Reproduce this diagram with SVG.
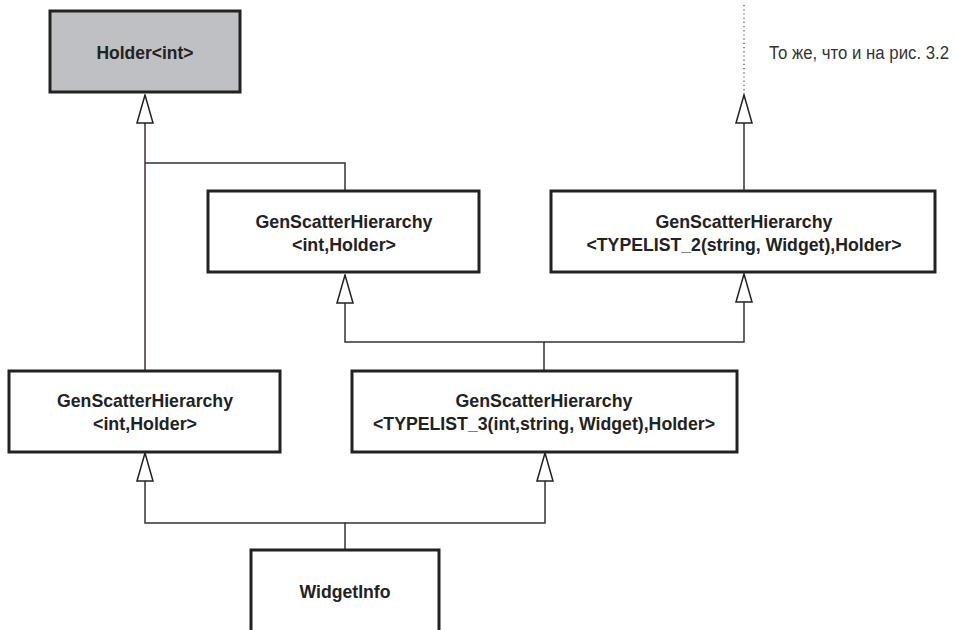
<svg xmlns="http://www.w3.org/2000/svg" width="955" height="630" viewBox="0 0 955 630">
<style>
.box{fill:#fff;stroke:#222;stroke-width:3}
.gray{fill:#bfc0c3}
.t{font-family:"Liberation Sans",Arial,sans-serif;font-weight:bold;font-size:19px;fill:#222;text-anchor:middle}
.lbl{font-family:"Liberation Sans",Arial,sans-serif;font-size:19px;fill:#333}
.c{fill:none;stroke:#333;stroke-width:1.5}
.m{fill:none;stroke:#4a2a30;stroke-width:1.5}
.dot{fill:none;stroke:#444;stroke-width:1.2;stroke-dasharray:1.2 3}
</style>
<defs>
<marker id="tri" viewBox="0 0 30 18" refX="29" refY="9" markerWidth="30" markerHeight="18" markerUnits="userSpaceOnUse" orient="auto">
<path d="M1,1 L29,9 L1,17 Z" fill="#fff" stroke="#222" stroke-width="1.5"/>
</marker>
</defs>
<g id="connectors">
<path class="dot" d="M744,5 V94"/>
<path class="m" d="M145,370 V95" marker-end="url(#tri)"/>
<path class="c" d="M345,190 V163 H145"/>
<path class="c" d="M744,190 V95" marker-end="url(#tri)"/>
<path class="c" d="M544,370 V342 H345 V275" marker-end="url(#tri)"/>
<path class="c" d="M544,342 H744 V274" marker-end="url(#tri)"/>
<path class="c" d="M345,549 V523 H145 V453" marker-end="url(#tri)"/>
<path class="c" d="M345,523 H545 V453" marker-end="url(#tri)"/>
</g>
<g id="holder">
<rect class="box gray" x="50" y="11" width="190" height="81"/>
<text class="t" x="145" y="59" textLength="97" lengthAdjust="spacingAndGlyphs">Holder&lt;int&gt;</text>
</g>
<g id="gsh-int-top">
<rect class="box" x="208" y="191" width="271" height="81"/>
<text class="t" x="344" y="228" textLength="177" lengthAdjust="spacingAndGlyphs">GenScatterHierarchy</text>
<text class="t" x="344" y="251" textLength="104" lengthAdjust="spacingAndGlyphs">&lt;int,Holder&gt;</text>
</g>
<g id="gsh-tl2">
<rect class="box" x="551" y="191" width="384" height="81"/>
<text class="t" x="744" y="228" textLength="177" lengthAdjust="spacingAndGlyphs">GenScatterHierarchy</text>
<text class="t" x="744" y="251" textLength="315" lengthAdjust="spacingAndGlyphs">&lt;TYPELIST_2(string, Widget),Holder&gt;</text>
</g>
<g id="gsh-int-bottom">
<rect class="box" x="9" y="371" width="271" height="81"/>
<text class="t" x="145" y="407" textLength="176" lengthAdjust="spacingAndGlyphs">GenScatterHierarchy</text>
<text class="t" x="145" y="430" textLength="104" lengthAdjust="spacingAndGlyphs">&lt;int,Holder&gt;</text>
</g>
<g id="gsh-tl3">
<rect class="box" x="352" y="371" width="385" height="81"/>
<text class="t" x="544" y="407" textLength="177" lengthAdjust="spacingAndGlyphs">GenScatterHierarchy</text>
<text class="t" x="544" y="430" textLength="342" lengthAdjust="spacingAndGlyphs">&lt;TYPELIST_3(int,string, Widget),Holder&gt;</text>
</g>
<g id="widgetinfo">
<rect class="box" x="251" y="550" width="188" height="100"/>
<text class="t" x="345" y="598" textLength="91" lengthAdjust="spacingAndGlyphs">WidgetInfo</text>
</g>
<g id="note">
<text class="lbl" transform="translate(769,59) scale(0.87,1)" x="0" y="0" textLength="207" lengthAdjust="spacingAndGlyphs">То же, что и на рис. 3.2</text>
</g>
</svg>
